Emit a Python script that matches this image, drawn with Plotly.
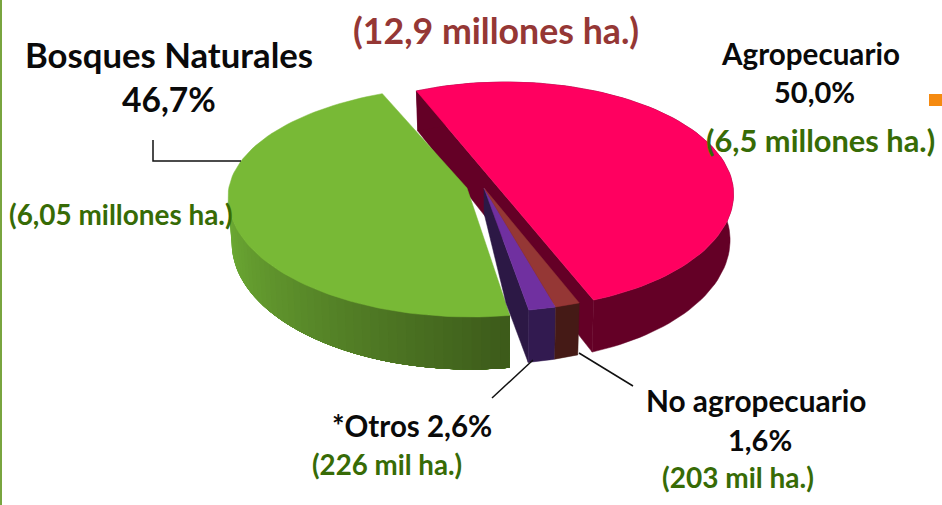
import math
import plotly.graph_objects as go

# ---- data ----
categorias = ["Agropecuario", "No agropecuario", "Otros", "Bosques Naturales"]
millones_ha = [6.5, 0.203, 0.226, 6.05]

titulo = "(12,9 millones ha.)"
etiquetas = ["Bosques Naturales", "46,7%", "Agropecuario", "50,0%",
             "No agropecuario", "1,6%", "*Otros 2,6%"]
etiquetas_ha = ["(6,05 millones ha.)", "(6,5 millones ha.)", "(226 mil ha.)", "(203 mil ha.)"]

# ---- view of the tilted, exploded pie (pixel units of the axes) ----
ROT = 112.4
VIEW = {
    "Agropecuario": dict(cx=505.5, cy=194, a=228, bt=112, bb=115, ax=505.5, ay=194, twist=0.6,
                         top="#FF0060", wall="#640026"),
    "No agropecuario": dict(cx=484, cy=188, a=253, bt=124, bb=124, ax=484, ay=188, twist=0,
                            top="#953735", wall="#451A16"),
    "Otros": dict(cx=484, cy=188, a=253, bt=124, bb=124, ax=484, ay=188, twist=0,
                  top="#7030A0", wall="#321A50"),
    "Bosques Naturales": dict(cx=471, cy=197, a=243, bt=111, bb=120, ax=467, ay=188, twist=-1,
                              top="#78B936", wall=None),
}
inner_wall = {"Otros": "#2C1845"}

total = sum(millones_ha)
bounds = {}
ang = ROT
for c, val in zip(categorias, millones_ha):
    sweep = val / total * 360
    bounds[c] = (ang + VIEW[c]["twist"], ang - sweep + VIEW[c]["twist"])
    ang -= sweep


def depth(t):
    return 46 - 6.5 * math.sin(t)


def rim(v, deg, lower=False):
    t = math.radians(deg)
    s = math.sin(t)
    b = v["bt"] if s > 0 else v["bb"]
    x = v["cx"] + v["a"] * math.cos(t)
    y = v["cy"] - b * s
    if lower:
        x = v["cx"] + 0.985 * v["a"] * math.cos(t)
        y += depth(t)
    return x, y


def arc(c, n=90, lower=False):
    v = VIEW[c]
    a0, a1 = bounds[c]
    return [rim(v, a0 + (a1 - a0) * i / n, lower) for i in range(n + 1)]


fig = go.Figure()


def poly(pts, color, width=0.5):
    fig.add_trace(go.Scatter(
        x=[p[0] for p in pts] + [pts[0][0]],
        y=[p[1] for p in pts] + [pts[0][1]],
        mode="lines", fill="toself", fillcolor=color,
        line=dict(width=width, color=color), hoverinfo="skip", showlegend=False))


# Agropecuario: chord wall, outer wall, top
v = VIEW["Agropecuario"]
up, lo = arc("Agropecuario"), arc("Agropecuario", lower=True)
poly([up[0], lo[0], lo[-1], up[-1]], v["wall"])
poly(up + lo[::-1], v["wall"])
poly(up, v["top"])

# Bosques Naturales: shaded outer wall (each band painted over the previous), then top
v = VIEW["Bosques Naturales"]
cut = bounds["Bosques Naturales"][0]
N = 44
c0, c1 = (110, 172, 52), (60, 90, 26)
for i in range(N):
    p = i / N
    degs = [-180.0 + (cut + 180.0) * (p + (1 - p) * j / 30) for j in range(31)]
    up_band = [rim(v, d) for d in degs]
    lo_band = [rim(v, d, True) for d in degs]
    f = (p + 0.5 / N) ** 1.15
    col = "rgb(%d,%d,%d)" % tuple(round(c0[k] + (c1[k] - c0[k]) * f) for k in range(3))
    poly(up_band + lo_band[::-1], col, width=0)
top = arc("Bosques Naturales")
poly(top + [(v["ax"], v["ay"])], v["top"])

# Otros
v = VIEW["Otros"]
up, lo = arc("Otros", 8), arc("Otros", 8, lower=True)
apex = (v["ax"], v["ay"])
poly([apex, up[-1], lo[-1], (506, 303), (apex[0], apex[1] + 25)], inner_wall["Otros"])
poly(up + lo[::-1], v["wall"])
poly([apex] + up, v["top"])

# No agropecuario
v = VIEW["No agropecuario"]
up, lo = arc("No agropecuario", 8), arc("No agropecuario", 8, lower=True)
poly(up + lo[::-1], v["wall"])
poly([apex] + up, v["top"])

# leader lines
for xs, ys in [([153, 153, 241], [140, 161, 161]),
               ([533, 492], [360, 398]),
               ([579, 633], [353, 386])]:
    fig.add_trace(go.Scatter(x=xs, y=ys, mode="lines", line=dict(color="#111111", width=1.5),
                             hoverinfo="skip", showlegend=False))

BLACK, GREEN, RED = "#0A0A0A", "#376B06", "#953735"
texts = [
    (titulo, 496, 30, 35.7, RED),
    (etiquetas[0], 169, 54, 34.7, BLACK),
    (etiquetas[1], 169, 99, 33.6, BLACK),
    (etiquetas[2], 810, 53, 29.6, BLACK),
    (etiquetas[3], 814, 91, 29, BLACK),
    (etiquetas[4], 756, 400, 29.8, BLACK),
    (etiquetas[5], 760, 439, 29, BLACK),
    (etiquetas[6], 412, 425, 29.5, BLACK),
    (etiquetas_ha[0], 121, 214, 27.9, GREEN),
    (etiquetas_ha[1], 820, 140, 30.8, GREEN),
    (etiquetas_ha[2], 387, 464, 27.7, GREEN),
    (etiquetas_ha[3], 738, 477, 28, GREEN),
]
for s, x, y, size, col in texts:
    fig.add_annotation(x=x, y=y, text="<b>%s</b>" % s, showarrow=False, xanchor="center", yanchor="middle",
                       font=dict(family="Lato", size=size, color=col))

fig.add_shape(type="rect", x0=0, x1=2, y0=0, y1=505, fillcolor="#79A53F", line_width=0)
fig.add_shape(type="rect", x0=929, x1=942, y0=94, y1=106, fillcolor="#F58A10", line_width=0)

fig.update_layout(
    width=942, height=505, margin=dict(l=0, r=0, t=0, b=0),
    paper_bgcolor="white", plot_bgcolor="white", showlegend=False,
    xaxis=dict(range=[0, 942], visible=False, fixedrange=True),
    yaxis=dict(range=[505, 0], visible=False, fixedrange=True),
)
fig.write_html("out.html", config={"displayModeBar": False},
               post_script="document.body.style.margin='0';")
